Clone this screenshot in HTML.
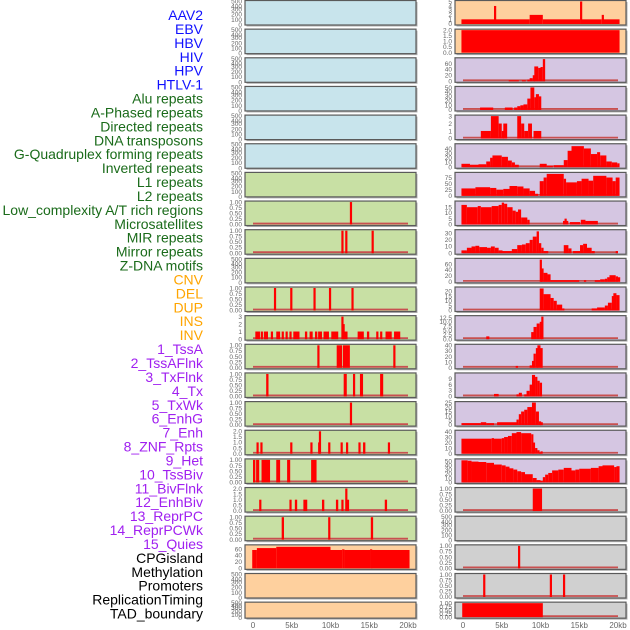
<!DOCTYPE html>
<html><head><meta charset="utf-8">
<style>
html,body{margin:0;padding:0;background:#fff;width:630px;height:630px;overflow:hidden}
svg{display:block}
.lbl{font-family:"Liberation Sans",sans-serif;font-size:14px}
.tk{font-family:"Liberation Sans",sans-serif;font-size:6.5px;fill:#666}
.xt{font-family:"Liberation Sans",sans-serif;font-size:8px;fill:#666}
</style></head>
<body>
<svg id="chart" width="630" height="630" viewBox="0 0 630 630"></svg>
<script>
// ---- Data ----
const trackLabels = ["AAV2","EBV","HBV","HIV","HPV","HTLV-1","Alu repeats","A-Phased repeats","Directed repeats","DNA transposons","G-Quadruplex forming repeats","Inverted repeats","L1 repeats","L2 repeats","Low_complexity A/T rich regions","Microsatellites","MIR repeats","Mirror repeats","Z-DNA motifs","CNV","DEL","DUP","INS","INV","1_TssA","2_TssAFlnk","3_TxFlnk","4_Tx","5_TxWk","6_EnhG","7_Enh","8_ZNF_Rpts","9_Het","10_TssBiv","11_BivFlnk","12_EnhBiv","13_ReprPC","14_ReprPCWk","15_Quies","CPGisland","Methylation","Promoters","ReplicationTiming","TAD_boundary"];
const labelGroups = [0,0,0,0,0,0,1,1,1,1,1,1,1,1,1,1,1,1,1,2,2,2,2,2,3,3,3,3,3,3,3,3,3,3,3,3,3,3,3,4,4,4,4,4];
const xTickValues = [0,5,10,15,20];
const xTickLabels = ["0","5kb","10kb","15kb","20kb"];

const ticks500 = [0,100,200,300,400,500];
const ticks1 = [0,0.25,0.5,0.75,1.0];
const ticks2 = [0,0.5,1.0,1.5,2.0];
const ticks3 = [0,1,2,3];
const ticks5 = [0,1,2,3,4,5];
const ticks60 = [0,20,40,60];
const ticks50 = [0,10,20,30,40,50];
const ticks40 = [0,10,20,30,40];
const ticks75 = [0,25,50,75];
const ticks15 = [0,5,10,15];
const ticks30 = [0,10,20,30];
const ticks20 = [0,5,10,15,20];
const ticks125 = [0,2.5,5,7.5,10,12.5];
const ticks9 = [0,3,6,9];
const ticks25 = [0,5,10,15,20,25];

// left column segments [startKb, endKb, value]
const leftRow7 = [[12.5,12.75,1]];
const leftRow8 = [[11.4,11.6,1],[11.9,12.1,1],[15.3,15.5,1]];
const leftRow10 = [[2.7,2.9,1],[4.8,5.0,1],[7.8,8.05,1],[9.8,10.0,1],[12.7,12.9,1]];
const leftRow11 = [[0.3,0.9,1],[1.0,1.15,1],[1.4,1.55,1],[1.65,1.8,1],[2.3,2.45,1],[3.0,3.5,1],[3.7,3.85,1],[4.2,4.35,1],[4.7,4.85,1],[5.2,6.0,1],[6.7,7.0,1],[7.3,7.7,1],[8.0,8.3,1],[8.4,8.9,1],[9.1,9.8,1],[10.1,11.0,1],[11.4,11.55,3],[11.55,11.7,2],[11.8,12.2,1],[13.5,14.3,1],[14.7,15.0,1],[15.9,16.1,1],[16.4,16.6,1],[17.1,17.9,1],[18.2,19.0,1]];
const leftRow12 = [[8.3,8.5,1],[10.8,11.5,1],[11.6,12.5,1],[18.1,18.3,1]];
const leftRow13 = [[1.7,2.0,1],[11.7,12.1,1],[12.9,13.1,1],[13.8,14.2,1],[16.4,16.8,1]];
const leftRow14 = [[12.5,12.7,1]];
const leftRow15 = [[0.45,0.65,1],[0.95,1.15,1],[4.8,5.0,1],[7.4,7.6,1],[8.4,8.5,1],[8.5,8.65,2],[9.7,9.9,1],[11.3,11.5,1],[12.0,12.2,1],[13.6,13.8,1],[14.2,14.5,1],[17.4,17.6,1]];
const leftRow16 = [[0,0.3,1],[0.4,0.8,1],[1.1,2.2,1],[3.0,3.5,1],[4.4,4.8,1],[7.5,8.2,1]];
const leftRow17 = [[0.8,1.0,1],[4.7,4.9,1],[5.4,5.7,1],[6.5,7.0,1],[8.9,9.2,1],[10.7,11.0,1],[11.4,11.6,1],[11.9,12.05,2],[12.1,12.4,1],[17.0,17.3,1]];
const leftRow18 = [[3.7,4.0,1],[9.7,9.9,1],[15.2,15.5,1]];
const leftRow19 = [[-0.1,0.5,57],[0.5,3.0,63],[3.0,10.0,67],[10.0,11.5,57],[11.5,11.8,59],[11.8,15.1,57],[15.1,15.3,59],[15.3,20.2,57]];

// right column
const rightRow0 = [[-0.2,4.0,1],[4.0,4.2,4],[4.2,8.6,1],[8.6,10.3,2],[10.3,15.1,1],[15.1,15.3,5],[15.3,17.9,1],[17.9,18.1,2],[18.1,20.2,1]];
const rightRow1 = [[-0.2,20.2,2]];
const rightRow2 = [[5.9,7.2,3],[7.6,8.1,3],[8.3,8.6,5],[8.6,9.0,10],[9.0,9.2,20],[9.2,9.7,50],[9.7,10.0,45],[10.0,10.3,48],[10.3,10.6,75]];
const rightRow3 = [[2.2,3.9,5],[5.4,6.4,5],[6.6,7.0,5],[7.0,7.4,8],[7.4,7.8,10],[7.8,8.3,12],[8.3,8.7,25],[8.7,9.2,50],[9.2,9.4,28],[9.4,9.8,35],[9.8,10.1,30]];
const rightRow4 = [[2.3,3.6,1],[3.6,4.6,3],[4.6,5.0,2],[5.0,5.2,1],[5.2,5.7,2],[7.0,7.5,3],[7.5,7.9,2],[7.9,8.4,1],[8.4,8.9,2],[9.1,10.1,1]];
const rightRow5 = [[-0.2,0.9,7],[0.9,2.0,5],[2.0,3.0,6],[3.0,3.5,12],[3.5,3.8,20],[3.8,5.0,25],[5.0,5.8,22],[5.8,6.3,14],[6.3,6.7,10],[6.7,7.2,5],[9.9,10.8,7],[10.8,11.6,3],[11.7,13.0,4],[13.0,13.5,15],[13.5,14.0,35],[14.0,15.6,45],[15.6,16.5,40],[16.5,17.3,28],[17.3,17.7,32],[17.7,18.5,25],[18.5,19.2,12],[19.2,19.9,10],[19.9,20.2,8]];
const rightRow6 = [[-0.2,1.6,30],[1.6,3.5,35],[3.5,4.3,32],[4.3,5.2,25],[5.2,6.0,28],[6.0,7.0,40],[7.0,7.8,38],[7.8,8.6,30],[8.6,9.3,20],[9.3,9.7,8],[9.9,10.4,60],[10.4,10.8,75],[10.8,13.0,90],[13.0,13.3,70],[13.3,14.7,55],[14.7,15.3,60],[15.3,16.2,70],[16.2,16.8,62],[16.8,18.5,82],[18.5,19.3,75],[19.3,19.7,60],[19.7,20.2,75]];
const rightRow7 = [[-0.2,0.5,17],[0.5,1.9,15],[1.9,2.3,16],[2.3,3.7,15],[3.7,4.6,16],[4.6,5.0,17],[5.0,5.3,19],[5.3,5.7,18],[5.7,6.4,15],[6.4,6.8,12],[6.8,7.1,11],[7.1,7.5,13],[7.5,8.3,6],[8.3,8.6,4],[12.9,13.1,3],[13.1,13.3,5],[13.3,13.5,3],[13.8,15.1,2],[15.2,15.8,4],[15.8,17.4,3]];
const rightRow8 = [[-0.2,0.5,4],[0.5,1.1,8],[1.1,1.6,10],[1.6,2.1,11],[2.1,3.1,9],[3.1,3.6,8],[3.6,4.1,10],[4.1,4.6,8],[4.6,5.1,4],[5.1,6.3,3],[6.3,7.0,6],[7.0,7.6,12],[7.6,8.1,13],[8.1,8.6,15],[8.6,9.0,20],[9.0,9.5,25],[9.5,9.8,33],[9.8,10.1,15],[10.1,10.4,8],[10.4,11.0,3],[13.0,13.6,12],[13.6,14.0,7],[14.2,15.1,3],[15.1,15.5,12],[15.5,16.0,14],[16.0,16.6,8],[16.6,17.0,3],[19.7,20.0,3]];
const rightRow9 = [[9.9,10.1,75],[10.1,10.4,45],[10.4,10.9,30],[10.9,11.3,25],[11.3,15.0,5],[15.6,15.9,5],[17.0,17.7,5],[17.7,18.3,8],[18.3,18.6,10],[18.6,18.9,15],[18.9,19.7,22],[19.7,20.0,18],[20.0,20.2,15]];
const rightRow10 = [[9.9,10.4,23],[10.4,11.3,17],[11.3,11.7,13],[11.7,12.1,10],[12.1,12.8,6],[12.8,13.0,2],[16.6,17.3,2],[17.3,18.3,3],[18.3,18.7,5],[18.7,19.2,8],[19.2,19.4,15],[19.4,19.8,18],[19.8,20.2,16]];
const rightRow11 = [[3.0,3.4,1.5],[8.8,9.1,4],[9.1,9.5,7],[9.5,9.9,9],[9.9,10.1,10],[10.1,10.25,13]];
const rightRow12 = [[6.8,7.1,3],[8.6,8.9,4],[8.9,9.1,12],[9.1,9.4,25],[9.4,9.6,35],[9.6,10.0,40],[10.0,10.2,35]];
const rightRow13 = [[4.0,4.6,1.2],[6.9,7.2,1],[7.2,7.6,1.8],[7.9,8.2,1],[8.2,8.6,2.8],[8.6,8.9,6],[8.9,9.3,11],[9.3,9.6,10],[9.6,9.9,8],[9.9,10.2,7]];
const rightRow14 = [[-0.2,2.3,2],[2.3,3.0,3],[3.0,4.0,2],[4.4,6.9,3],[6.9,7.2,6],[7.2,7.5,12],[7.5,7.9,15],[7.9,8.3,17],[8.3,8.9,20],[8.9,9.4,25],[9.4,9.8,15],[9.8,10.0,4],[10.0,10.3,3]];
const rightRow15 = [[-0.2,3.7,27],[3.7,4.0,28],[4.0,5.0,27],[5.0,5.3,28],[5.3,5.8,30],[5.8,6.3,32],[6.3,6.9,37],[6.9,7.5,39],[7.5,8.8,37],[8.8,9.0,35],[9.0,9.3,20],[9.3,9.6,10],[9.6,9.8,6],[9.8,10.0,2],[10.0,10.2,4]];
const rightRow16 = [[-0.2,0.6,52],[0.6,1.1,51],[1.1,2.0,49],[2.0,3.0,48],[3.0,4.0,46],[4.0,5.0,42],[5.0,5.5,40],[5.5,6.0,37],[6.0,6.5,33],[6.5,7.0,30],[7.0,7.5,26],[7.5,8.0,24],[8.0,9.0,19],[9.0,9.5,10],[9.5,10.0,5],[10.0,10.3,3],[10.3,10.6,12],[10.6,11.0,18],[11.0,11.5,22],[11.5,12.3,28],[12.3,13.0,30],[13.0,14.0,34],[14.0,14.5,28],[14.5,15.0,30],[15.0,16.5,32],[16.5,17.5,34],[17.5,18.0,38],[18.0,19.5,40],[19.5,19.8,36],[19.8,20.2,38]];
const rightRow17 = [[9.0,10.2,1]];
const rightRow19 = [[7.1,7.3,1]];
const rightRow20 = [[2.6,2.8,1],[11.2,11.4,1],[12.9,13.1,1]];
const rightRow21 = [[-0.1,10.3,1]];

// ---- Layout ----
const COLS = [{x0:245,x1:416,k0:253,k20:408},{x0:455,x1:626,k0:463,k20:618}];
const BG = {blue:"#c8e4ec",green:"#c8e0a4",peach:"#fed09e",purple:"#d5c6e2",gray:"#d0d0d0"};
const labelColors = ["#1010ff","#1a6b1a","#ffa500","#a020f0","#000000"];
const E = null;
const leftPanels = [
 ["blue",ticks500,E,false],["blue",ticks500,E,false],["blue",ticks500,E,false],["blue",ticks500,E,false],["blue",ticks500,E,false],["blue",ticks500,E,false],
 ["green",ticks500,E,false],["green",ticks1,leftRow7,true],["green",ticks1,leftRow8,true],["green",ticks500,E,false],["green",ticks1,leftRow10,true],["green",ticks3,leftRow11,true],
 ["green",ticks1,leftRow12,true],["green",ticks1,leftRow13,true],["green",ticks1,leftRow14,true],["green",ticks2,leftRow15,true],["green",ticks1,leftRow16,true],["green",ticks2,leftRow17,true],["green",ticks1,leftRow18,true],
 ["peach",ticks60,leftRow19,false,70],["peach",ticks500,E,false],["peach",ticks500,E,false]];
const rightPanels = [
 ["peach",ticks5,rightRow0,false],["peach",ticks2,rightRow1,false],["purple",ticks60,rightRow2,true,76],["purple",ticks50,rightRow3,true],["purple",ticks3,rightRow4,true],
 ["purple",ticks40,rightRow5,true,48],["purple",ticks75,rightRow6,true,92],["purple",ticks15,rightRow7,true,19.5],["purple",ticks30,rightRow8,true,34],["purple",ticks60,rightRow9,true,76],
 ["purple",ticks20,rightRow10,true,23.5],["purple",ticks125,rightRow11,true,13],["purple",ticks40,rightRow12,true],["purple",ticks9,rightRow13,true,11.5],["purple",ticks25,rightRow14,true],
 ["purple",ticks40,rightRow15,true,40.5],["purple",ticks50,rightRow16,true,53],["gray",ticks1,rightRow17,true],["gray",ticks500,E,false],["gray",ticks1,rightRow19,true],["gray",ticks1,rightRow20,true],["gray",ticks1,rightRow21,true]];

const NS="http://www.w3.org/2000/svg";
const svg=document.getElementById("chart");
function mk(tag,attrs,parent){const e=document.createElementNS(NS,tag);for(const k in attrs)e.setAttribute(k,attrs[k]);(parent||svg).appendChild(e);return e;}
function rowTop(i){return i*28.65+0.5;}
function rowH(i){return i===21?16:24.5;}

// labels
trackLabels.forEach((t,i)=>{
  const el=mk("text",{x:203,y:15+i*13.92+5,"text-anchor":"end",class:"lbl",fill:labelColors[labelGroups[i]]});
  el.textContent=t;
  
  
});

function fmt(v,ticks){
  if(ticks===ticks1) return v.toFixed(2);
  if(ticks===ticks2||ticks===ticks125) return v.toFixed(1);
  return String(v);
}

function drawPanel(colIdx,rowIdx,p){
  const c=COLS[colIdx], top=rowTop(rowIdx), h=rowH(rowIdx), bot=top+h;
  const [bgKey,ticks,segs,baseline,ymaxOpt]=p;
  const g=mk("g",{});
  
  
  mk("rect",{x:c.x0+1.5,y:top+1.5,width:c.x1-c.x0,height:h,fill:"#b0b0b0"},g);
  mk("rect",{x:c.x0,y:top,width:c.x1-c.x0,height:h,fill:BG[bgKey],stroke:"#5a5a5a","stroke-width":1.2},g);
  const ymax = ymaxOpt || ticks[ticks.length-1];
  const y0 = bot-1.2, yTop = top+1;
  const ys = v => y0 - v/ymax*(y0-yTop);
  const xs = k => c.k0 + k/20*(c.k20-c.k0);
  if(ticks===ticks500){
    const offs=[1,0.79,0.58,0.37,0.24,0.04];
    ticks.forEach((v,j)=>{const t=mk("text",{x:c.x0-3,y:top+h*offs[j]+2,"text-anchor":"end",class:"tk"},g);t.textContent=v;});
  } else {
    ticks.forEach(v=>{const t=mk("text",{x:c.x0-3,y:ys(v)+2.3,"text-anchor":"end",class:"tk"},g);t.textContent=fmt(v,ticks);});
  }
  if(baseline) mk("line",{x1:xs(0),x2:xs(20),y1:y0-0.8,y2:y0-0.8,stroke:"#c85050","stroke-width":1.8},g);
  if(segs){
    segs.forEach(s=>{
      const xa=xs(s[0]), xb=xs(s[1]);
      const w=Math.max(xb-xa,2.2);
      const r=mk("rect",{x:xa,y:ys(s[2]),width:w,height:y0-ys(s[2])+0.2,fill:"#ff0000"},g);
      
      
    });
  }
}
leftPanels.forEach((p,i)=>drawPanel(0,i,p));
rightPanels.forEach((p,i)=>drawPanel(1,i,p));

COLS.forEach((c,ci)=>{
  xTickValues.forEach((v,j)=>{
    const t=mk("text",{x:c.k0+v/20*(c.k20-c.k0),y:628,"text-anchor":"middle",class:"xt"});
    t.textContent=xTickLabels[j];
    
    
  });
});
</script>
</body></html>
